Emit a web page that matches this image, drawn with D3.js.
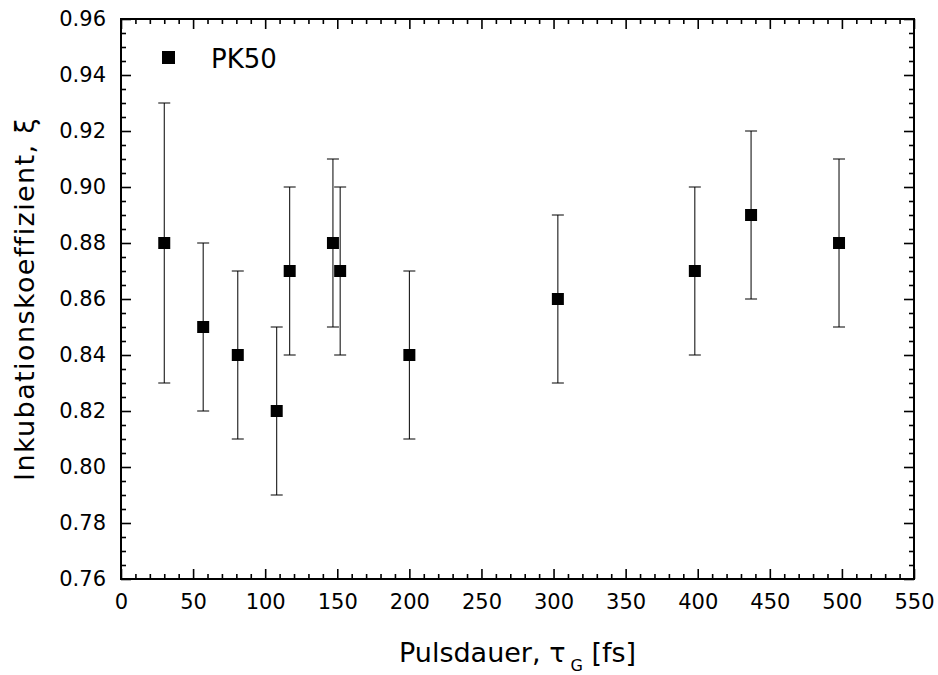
<!DOCTYPE html>
<html>
  <head>
    <meta charset="utf-8" />
    <script src="https://d3js.org/d3.v7.min.js"></script>
    <style>
      body { margin: 0; background: #fff; }
      text { font-family: "DejaVu Sans", Verdana, sans-serif; fill: #000; }
    </style>
  </head>
  <body>
    <svg id="chart"></svg>
    <script>
      // data
      var pulseDuration = [30, 57, 81, 108, 117, 147, 152, 200, 303, 398, 437, 498];
      var coefficient = [0.88, 0.85, 0.84, 0.82, 0.87, 0.88, 0.87, 0.84, 0.86, 0.87, 0.89, 0.88];
      var errLow = [0.83, 0.82, 0.81, 0.79, 0.84, 0.85, 0.84, 0.81, 0.83, 0.84, 0.86, 0.85];
      var errHigh = [0.93, 0.88, 0.87, 0.85, 0.90, 0.91, 0.90, 0.87, 0.89, 0.90, 0.92, 0.91];
      var xTicks = [0, 50, 100, 150, 200, 250, 300, 350, 400, 450, 500, 550];
      var yTicks = [0.76, 0.78, 0.8, 0.82, 0.84, 0.86, 0.88, 0.9, 0.92, 0.94, 0.96];
      var seriesName = "PK50";

      var width = 938;
      var height = 675;
      var plotLeft = 121, plotRight = 914, plotTop = 19, plotBottom = 579;

      var svg = d3.select("#chart").attr("width", width).attr("height", height);

      var x = d3.scaleLinear().domain([0, 550]).range([plotLeft, plotRight]);
      var y = d3.scaleLinear().domain([0.76, 0.96]).range([plotBottom, plotTop]);

      var xMinor = d3.range(0, 551, 10).filter((v) => v % 50 !== 0);
      var yMinor = d3.range(0, 41).map((i) => 0.76 + i * 0.005).filter((v, i) => i % 4 !== 0);

      // axes with inward ticks on all four sides
      function drawAxis(axisFn, scale, major, minor, transform, labels) {
        var g = svg.append("g").attr("transform", transform);
        g.call(axisFn(scale).tickValues(minor).tickSize(-5).tickFormat(""));
        var gm = svg.append("g").attr("transform", transform);
        gm.call(axisFn(scale).tickValues(major).tickSize(-10).tickPadding(labels ? 15 : 0)
          .tickFormat(labels ? labels : ""));
        [g, gm].forEach((s) => {
          s.select(".domain").remove();
          s.selectAll(".tick line").attr("stroke", "#000").attr("stroke-width", 1.6);
          s.selectAll(".tick text").style("font-size", "21px").attr("fill", "#000");
        });
      }

      drawAxis(d3.axisBottom, x, xTicks, xMinor, "translate(0," + plotBottom + ")", d3.format("d"));
      drawAxis(d3.axisTop, x, xTicks, xMinor, "translate(0," + plotTop + ")", null);
      drawAxis(d3.axisLeft, y, yTicks, yMinor, "translate(" + plotLeft + ",0)", d3.format(".2f"));
      drawAxis(d3.axisRight, y, yTicks, yMinor, "translate(" + plotRight + ",0)", null);

      svg.append("rect")
        .attr("x", plotLeft).attr("y", plotTop)
        .attr("width", plotRight - plotLeft).attr("height", plotBottom - plotTop)
        .attr("fill", "none").attr("stroke", "#000").attr("stroke-width", 2);

      // error bars
      var bars = svg.append("g").attr("stroke", "#000").attr("stroke-width", 1);
      pulseDuration.forEach(function (d, i) {
        bars.append("line")
          .attr("x1", x(d)).attr("x2", x(d))
          .attr("y1", y(errLow[i])).attr("y2", y(errHigh[i]));
        [errLow[i], errHigh[i]].forEach(function (v) {
          bars.append("line")
            .attr("x1", x(d) - 6).attr("x2", x(d) + 6)
            .attr("y1", y(v)).attr("y2", y(v));
        });
      });

      // markers
      svg.append("g")
        .selectAll("rect")
        .data(pulseDuration)
        .join("rect")
        .attr("x", (d) => x(d) - 6)
        .attr("y", (d, i) => y(coefficient[i]) - 6)
        .attr("width", 12)
        .attr("height", 12)
        .attr("fill", "#000");

      // legend
      svg.append("rect").attr("x", 162).attr("y", 51).attr("width", 13).attr("height", 13).attr("fill", "#000");
      svg.append("text").attr("x", 211).attr("y", 68).style("font-size", "26px").text(seriesName);

      // axis titles
      var xt = svg.append("text")
        .attr("x", (plotLeft + plotRight) / 2)
        .attr("y", 662)
        .attr("text-anchor", "middle")
        .style("font-size", "27px");
      xt.append("tspan").text("Pulsdauer, \u03c4");
      xt.append("tspan").attr("dx", 5).attr("dy", 9).style("font-size", "16px").text("G");
      xt.append("tspan").attr("dy", -9).text(" [fs]");

      svg.append("text")
        .attr("transform", "translate(34," + (plotTop + plotBottom) / 2 + ") rotate(-90)")
        .attr("text-anchor", "middle")
        .style("font-size", "27px")
        .style("letter-spacing", "1.4px")
        .text("Inkubationskoeffizient, \u03be");
    </script>
  </body>
</html>
